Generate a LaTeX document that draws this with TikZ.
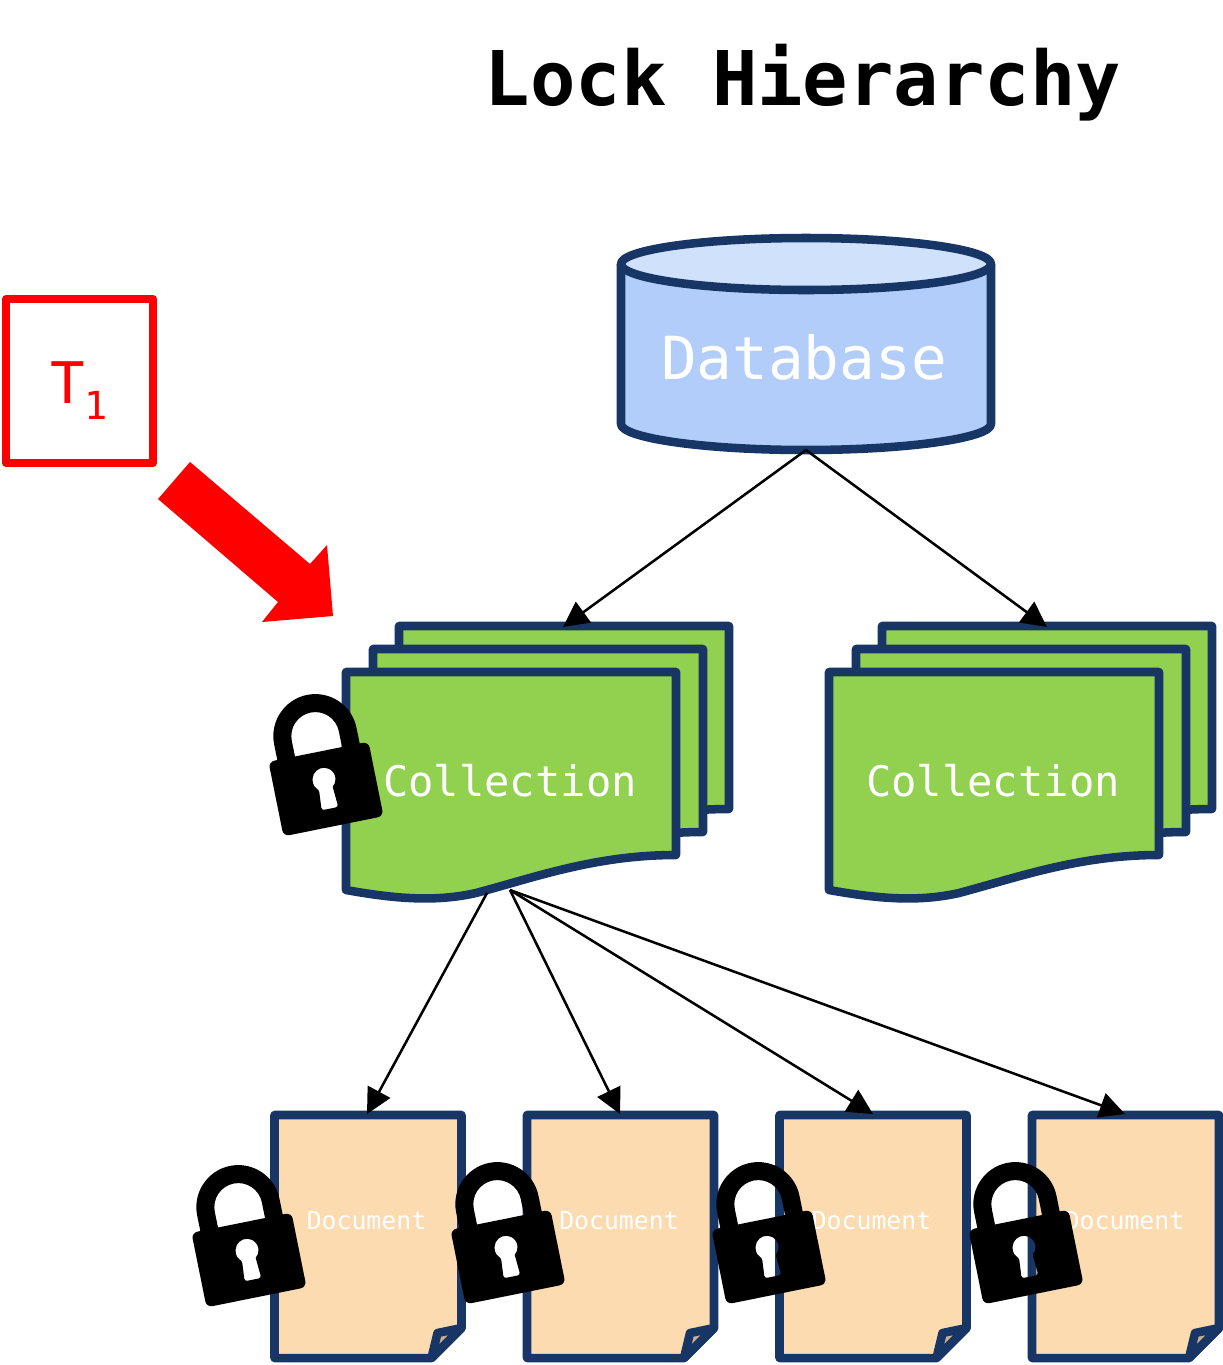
\documentclass[tikz,border=0pt]{standalone}
\usepackage{fontspec}
\setmonofont{DejaVu Sans Mono}
\usetikzlibrary{arrows.meta}

\definecolor{navyline}{RGB}{23,54,102}
\definecolor{dbbody}{RGB}{178,205,250}
\definecolor{dbtop}{RGB}{208,225,252}
\definecolor{collfill}{RGB}{146,208,80}
\definecolor{docfill}{RGB}{253,219,176}
\definecolor{foldfill}{RGB}{204,175,140}

\tikzset{every picture/.style={line width=0.75pt}}
\tikzset{
  flipped/.style={yscale=-1},
  tilted/.style={rotate=11.4,yscale=-1},
  outlined/.style={draw=navyline,line width=6.4pt,line join=round},
  link/.style={draw=black,line width=1.9pt,-{Triangle[length=19pt,width=19pt]}},
  docText/.style={font=\ttfamily\fontsize{18.6}{20}\selectfont,text=white},
  collText/.style={font=\ttfamily\fontsize{31.6}{34}\selectfont,text=white},
  sheet/.pic={
    \draw [outlined,fill=collfill] (0,0) -- (330,0) -- (330,183) .. controls (250,183) and (190,205) .. (130,221) .. controls (90,230) and (50,227) .. (0,218) -- cycle ;
  },
  collstack/.pic={
    \path (53,-46) pic [flipped] {sheet};
    \path (27,-23) pic [flipped] {sheet};
    \path (0,0) pic [flipped] {sheet};
  },
  page/.pic={
    \draw [outlined,fill=docfill] (0,0) -- (187,0) -- (187,213) -- (157,243) -- (0,243) -- cycle ;
    \draw [outlined,fill=foldfill] (157,243) -- (163,218) -- (187,213) -- cycle ;
  },
  padlock/.pic={
    \fill [black,even odd rule] (-42,-30) -- (-42,-54) arc [start angle=180,end angle=360,radius=42] -- (42,-30) -- (24,-30) -- (24,-54) arc [start angle=360,end angle=180,radius=24] -- (-24,-30) -- cycle ;
    \fill [black,even odd rule,rounded corners=4.5pt] (-51,-38) -- (51,-38) -- (51,38) -- (-51,38) -- cycle
      [sharp corners] (-7,-0.8) arc [start angle=127.5,end angle=412.5,radius=11.5] [rounded corners=2pt] -- (8.5,20) -- (-8.5,20) -- cycle ;
  }
}

\begin{document}
\begin{tikzpicture}[x=0.75pt,y=0.75pt,yscale=-1,xscale=1]
\useasboundingbox (0,0) rectangle (1223,1365);

%Shape: Can
\draw [outlined,fill=dbbody] (621,264) -- (621,424) .. controls (621,438) and (704,450) .. (806,450) .. controls (908,450) and (991,438) .. (991,424) -- (991,264) ;
\draw [outlined,fill=dbtop] (806,264) ellipse [x radius=185,y radius=26] ;

%Shape: Collection stacks
\path (346,672) pic [flipped] {collstack} ;
\path (829,672) pic [flipped] {collstack} ;

%Shape: Document pages
\path (274.5,1115) pic [flipped] {page} ;
\path (527,1115) pic [flipped] {page} ;
\path (779.5,1115) pic [flipped] {page} ;
\path (1032,1115) pic [flipped] {page} ;

% Text Node
\draw (803,83) node (title) [font=\ttfamily\bfseries\fontsize{56.6}{60}\selectfont] {Lock Hierarchy};
% Text Node
\draw (804,357) node (dbText) [font=\ttfamily\fontsize{44.5}{46}\selectfont,text=white] {Database};
% Text Node
\draw (510,781) node (collTextA) [collText] {Collection};
% Text Node
\draw (993,781) node (collTextB) [collText] {Collection};
% Text Node
\draw (366.5,1221) node (docTextA) [docText] {Document};
% Text Node
\draw (619,1221) node (docTextB) [docText] {Document};
% Text Node
\draw (871.5,1221) node (docTextC) [docText] {Document};
% Text Node
\draw (1124.5,1221) node (docTextD) [docText] {Document};
% Text Node
\draw (79,391) node (txnBox) [text=red,inner sep=0pt,font=\ttfamily\fontsize{43}{46}\selectfont] {T\raisebox{-12pt}{\fontsize{29}{30}\selectfont 1}};

%Shape: Rectangle
\draw [draw=red,line width=6pt,line join=round] (6,299) rectangle (153,463) ;

%Shape: Red arrow
\fill [red] (190,462) -- (310,564) -- (327,545) -- (333,616) -- (262,622) -- (278,602) -- (158,499) -- cycle ;

%Connection points
\coordinate (dbBottom) at (806,450) ;
\coordinate (collTopA) at (563,627) ;
\coordinate (collTopB) at (1047,627) ;
\coordinate (collOutL) at (487,893) ;
\coordinate (collOutR) at (510,890) ;
\coordinate (docTopA) at (367,1114) ;
\coordinate (docTopB) at (620,1114) ;
\coordinate (docTopC) at (873,1114) ;
\coordinate (docTopD) at (1125,1114) ;

%Straight Lines
\draw [link] (dbBottom) -- (collTopA) ;
\draw [link] (dbBottom) -- (collTopB) ;
\draw [link] (collOutL) -- (docTopA) ;
\draw [link] (collOutR) -- (docTopB) ;
\draw [link] (collOutR) -- (docTopC) ;
\draw [link] (collOutR) -- (docTopD) ;

%Shape: Padlocks
\path (326,789) pic [tilted] {padlock} ;
\path (249,1260) pic [tilted] {padlock} ;
\path (508,1257) pic [tilted] {padlock} ;
\path (769,1257) pic [tilted] {padlock} ;
\path (1026,1257) pic [tilted] {padlock} ;

\end{tikzpicture}
\end{document}
